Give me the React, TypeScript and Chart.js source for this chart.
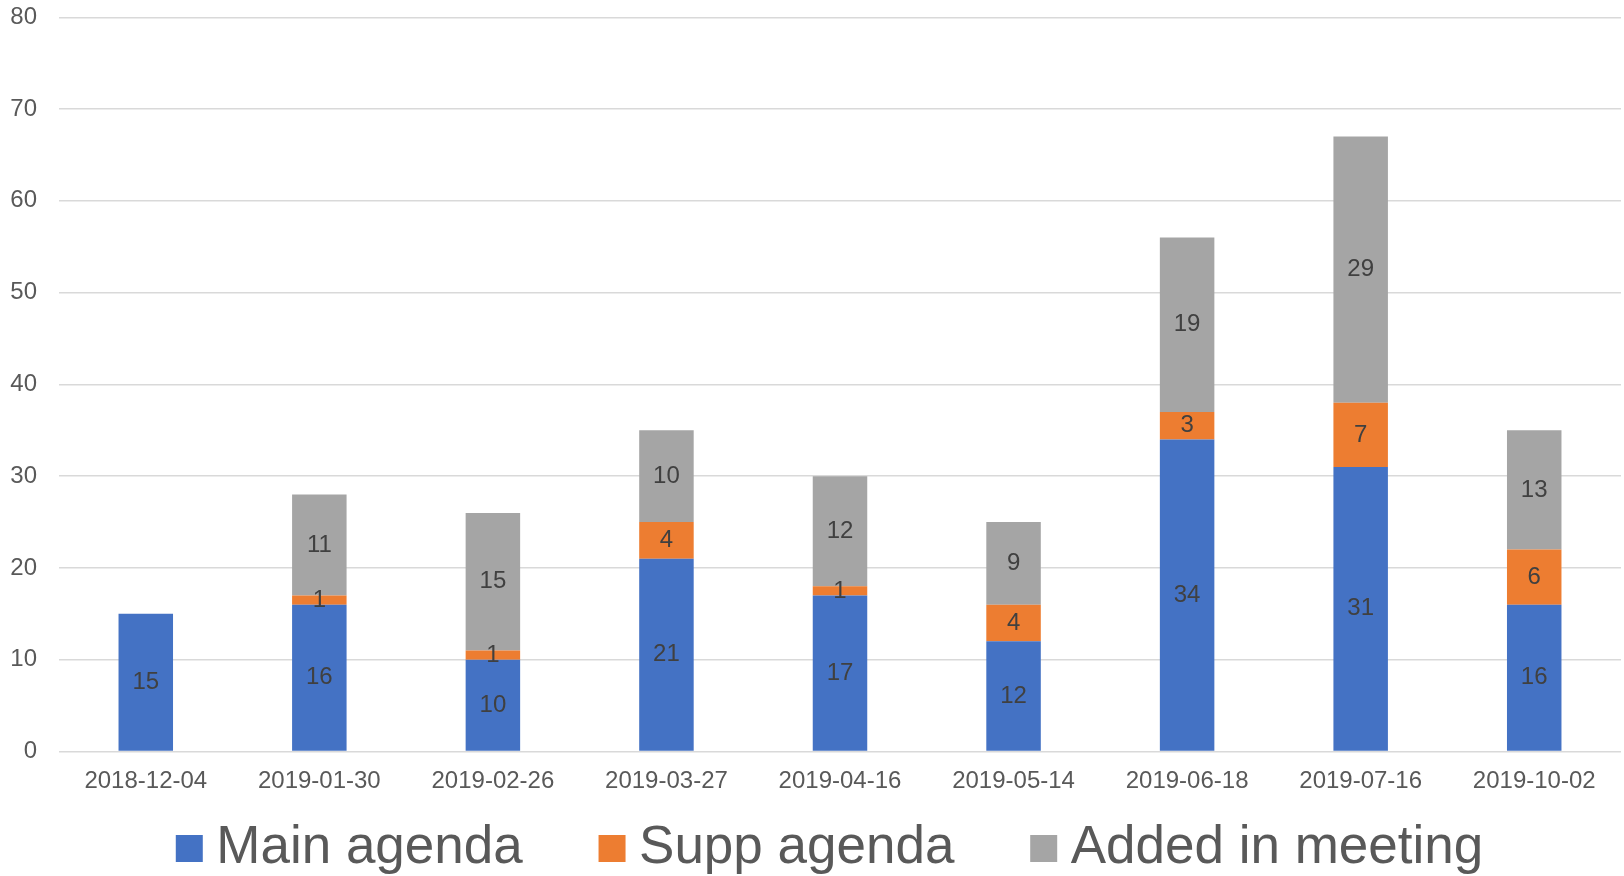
import React, { useEffect, useRef } from "react";
import { Chart, registerables } from "chart.js";

Chart.register(...registerables);

const categories = [
  "2018-12-04",
  "2019-01-30",
  "2019-02-26",
  "2019-03-27",
  "2019-04-16",
  "2019-05-14",
  "2019-06-18",
  "2019-07-16",
  "2019-10-02",
];
const mainAgenda = [15, 16, 10, 21, 17, 12, 34, 31, 16];
const suppAgenda = [0, 1, 1, 4, 1, 4, 3, 7, 6];
const addedInMeeting = [0, 11, 15, 10, 12, 9, 19, 29, 13];
const seriesNames = ["Main agenda", "Supp agenda", "Added in meeting"];
const seriesColors = ["#4472C4", "#ED7D31", "#A5A5A5"];

const FONT = '"Liberation Sans", Arial, Helvetica, sans-serif';
const LEGEND_PAD = 88.8;
const LEGEND_TOP = 822 - LEGEND_PAD;
const LEGEND_SHIFT = -4;

const segmentLabels = {
  id: "segmentLabels",
  afterLayout(chart: any) {
    const lg = chart.legend;
    if (lg) {
      lg.top = LEGEND_TOP;
      lg.bottom = 876;
      lg.height = lg.bottom - lg.top;
      lg.left += LEGEND_SHIFT;
      lg.right += LEGEND_SHIFT;
    }
  },
  afterDatasetsDraw(chart: any) {
    const ctx = chart.ctx;
    ctx.save();
    ctx.font = `24px ${FONT}`;
    ctx.fillStyle = "#404040";
    ctx.textAlign = "center";
    ctx.textBaseline = "middle";
    chart.data.datasets.forEach((ds: any, di: number) => {
      const meta = chart.getDatasetMeta(di);
      meta.data.forEach((bar: any, i: number) => {
        const v = ds.data[i];
        if (!v) return;
        const p = bar.getProps(["x", "y", "base"], true);
        ctx.fillText(String(v), p.x, (p.y + p.base) / 2);
      });
    });
    ctx.restore();
  },
};

export default function App() {
  const ref = useRef<HTMLCanvasElement | null>(null);

  useEffect(() => {
    if (!ref.current) return;
    const chart = new Chart(ref.current, {
      type: "bar",
      data: {
        labels: categories,
        datasets: [mainAgenda, suppAgenda, addedInMeeting].map((d, i) => ({
          label: seriesNames[i],
          data: d,
          backgroundColor: seriesColors[i],
          borderWidth: 0,
          barPercentage: 0.314,
          categoryPercentage: 1,
        })),
      },
      options: {
        responsive: false,
        animation: false,
        layout: { padding: { top: 17.3, left: 0, right: 3, bottom: 0 } },
        plugins: {
          tooltip: { enabled: false },
          legend: {
            position: "bottom",
            fullSize: false,
            maxHeight: 80.5,
            labels: {
              usePointStyle: true,
              pointStyle: "rect",
              boxWidth: 1,
              boxHeight: 27,
              padding: LEGEND_PAD,
              color: "#595959",
              font: { size: 53, family: FONT },
            },
          },
        },
        scales: {
          x: {
            stacked: true,
            grid: { display: false, drawTicks: false },
            border: { display: false },
            ticks: {
              color: "#595959",
              font: { size: 24, family: FONT },
              padding: 15,
              maxRotation: 0,
              autoSkip: false,
            },
            afterFit: (s: any) => {
              s.height = 44;
              s.paddingLeft = 0;
              s.paddingRight = 0;
            },
          },
          y: {
            stacked: true,
            min: 0,
            max: 80,
            grid: { color: "#d9d9d9", lineWidth: 1.5, drawTicks: false },
            border: { display: false },
            ticks: {
              stepSize: 10,
              color: "#595959",
              font: { size: 24, family: FONT },
              padding: 22,
            },
            afterFit: (s: any) => {
              s.width = 59;
              s.paddingTop = 0;
              s.paddingBottom = 0;
            },
          },
        },
      },
      plugins: [segmentLabels],
    });
    return () => chart.destroy();
  }, []);

  return (
    <div style={{ position: "fixed", left: 0, top: 0, width: 1624, height: 876, background: "#fff" }}>
      <canvas ref={ref} width={1624} height={876} style={{ display: "block" }} />
    </div>
  );
}
